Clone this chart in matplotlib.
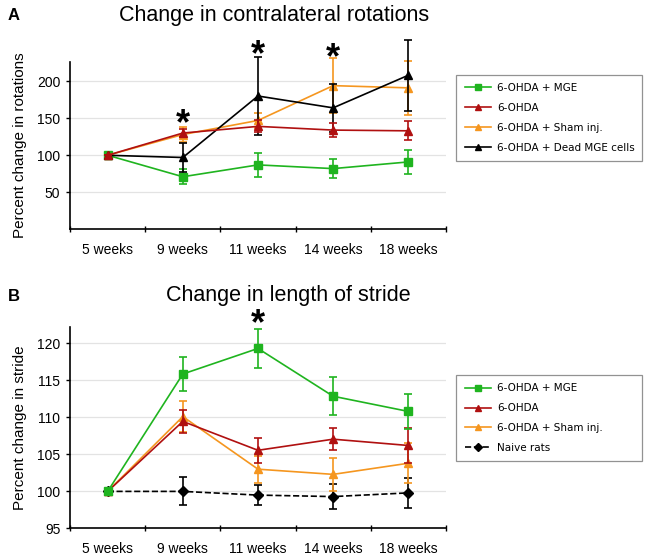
import numpy as np
import matplotlib
matplotlib.use("Agg")
import matplotlib.pyplot as plt
from matplotlib.lines import Line2D

# categories
weeks = ["5 weeks", "9 weeks", "11 weeks", "14 weeks", "18 weeks"]

# panel A - contralateral rotations (percent)
rot_mge = [100, 71, 87, 82, 91]
rot_mge_err = [0, 10, 16, 13, 16]
rot_ohda = [100, 130, 139, 134, 133]
rot_ohda_err = [0, 5, 8, 9, 13]
rot_sham = [100, 128, 147, 194, 191]
rot_sham_err = [0, 10, 10, 37, 36]
rot_dead = [100, 97, 180, 164, 208]
rot_dead_err = [0, 20, 52, 32, 48]
rot_stars = {1: 141, 2: 234, 3: 231}

# panel B - length of stride (percent)
str_mge = [100, 115.85, 119.3, 112.85, 110.8]
str_mge_err = [0, 2.35, 2.6, 2.55, 2.35]
str_ohda = [100, 109.45, 105.55, 107.05, 106.2]
str_ohda_err = [0, 1.6, 1.7, 1.5, 2.3]
str_sham = [100, 110.1, 103.0, 102.3, 103.8]
str_sham_err = [0, 2.05, 1.8, 2.25, 2.7]
str_naive = [100, 100.0, 99.5, 99.3, 99.8]
str_naive_err = [0, 1.9, 1.4, 1.7, 2.05]
str_stars = {2: 122.5}

GREEN = "#1fb41f"
RED = "#b01010"
ORANGE = "#f5961f"
BLACK = "#000000"

plt.rcParams['font.family'] = ['Liberation Sans', 'DejaVu Sans']

fig = plt.figure(figsize=(6.49, 5.58), dpi=100)
x = np.arange(len(weeks))


def series(ax, y, err, color, marker, ls="-", ms=6, z=2):
    ax.errorbar(x, y, yerr=err, color=color, ecolor=color, marker=marker,
                markersize=ms, linestyle=ls, linewidth=1.2, elinewidth=1.2,
                capsize=3, capthick=1.2, clip_on=False, zorder=z,
                markeredgecolor=color, markerfacecolor=color)
    return Line2D([], [], color=color, marker=marker, markersize=ms - 1,
                  linestyle=ls, linewidth=1.2)


def style(ax, ylim, yticks, ylabel):
    ax.set_xlim(-0.5, 4.5)
    ax.set_ylim(*ylim)
    ax.set_yticks(yticks)
    ax.set_yticklabels([str(t) for t in yticks], fontsize=10)
    ax.set_xticks(x)
    ax.set_xticklabels(weeks, fontsize=10)
    ax.set_xticks(np.arange(-0.5, 5.0, 1.0), minor=True)
    ax.tick_params(axis='x', which='major', length=0, pad=10)
    ax.tick_params(axis='x', which='minor', length=4, width=1, direction='inout')
    ax.tick_params(axis='y', length=3, width=1, direction='out', pad=4)
    for s in ['top', 'right']:
        ax.spines[s].set_visible(False)
    for s in ['left', 'bottom']:
        ax.spines[s].set_linewidth(1.2)
    ax.grid(axis='y', color='#e3e3e3', linewidth=0.9)
    ax.set_axisbelow(True)
    ax.set_ylabel(ylabel, fontsize=11, labelpad=7)


def legend(handles, labels, top):
    leg = fig.legend(handles, labels, loc='upper left',
                     bbox_to_anchor=(0.703, top - 0.2, 0.286, 0.2),
                     mode='expand', frameon=True, fancybox=False,
                     edgecolor='#777777',
                     prop={'family': 'DejaVu Sans', 'size': 7.5},
                     handlelength=2.5, handletextpad=0.6, labelspacing=0.95,
                     borderpad=0.8, borderaxespad=0)
    leg.get_frame().set_linewidth(0.9)


# ---- panel A
axA = fig.add_axes([0.108, 0.589, 0.579, 0.300])
hA = [series(axA, rot_mge, rot_mge_err, GREEN, 's', z=2.0),
      series(axA, rot_ohda, rot_ohda_err, RED, '^', z=2.6),
      series(axA, rot_sham, rot_sham_err, ORANGE, '^', z=2.2),
      series(axA, rot_dead, rot_dead_err, BLACK, '^', z=2.4)]
style(axA, (0, 226), [50, 100, 150, 200], "Percent change in rotations")
for i, yv in rot_stars.items():
    axA.text(i, yv, "*", ha='center', va='center', fontsize=26,
             fontweight='bold', clip_on=False)
fig.text(0.422, 0.973, "Change in contralateral rotations", fontsize=15.5,
         ha='center', va='center')
legend(hA, ["6-OHDA + MGE", "6-OHDA", "6-OHDA + Sham inj.",
            "6-OHDA + Dead MGE cells"], 0.866)

# ---- panel B
axB = fig.add_axes([0.108, 0.053, 0.579, 0.361])
hB = [series(axB, str_mge, str_mge_err, GREEN, 's', z=2.6),
      series(axB, str_ohda, str_ohda_err, RED, '^', z=2.4),
      series(axB, str_sham, str_sham_err, ORANGE, '^', z=2.2),
      series(axB, str_naive, str_naive_err, BLACK, 'D', ls="--", ms=5, z=2.0)]
style(axB, (95, 122.2), [95, 100, 105, 110, 115, 120], "Percent change in stride")
for i, yv in str_stars.items():
    axB.text(i, yv, "*", ha='center', va='center', fontsize=26,
             fontweight='bold', clip_on=False)
fig.text(0.445, 0.471, "Change in length of stride", fontsize=15.5,
         ha='center', va='center')
legend(hB, ["6-OHDA + MGE", "6-OHDA", "6-OHDA + Sham inj.", "Naive rats"], 0.328)

fig.text(0.012, 0.973, "A", fontsize=12, fontweight='bold', va='center')
fig.text(0.012, 0.469, "B", fontsize=12, fontweight='bold', va='center')

fig.savefig("out.png", dpi=100)
